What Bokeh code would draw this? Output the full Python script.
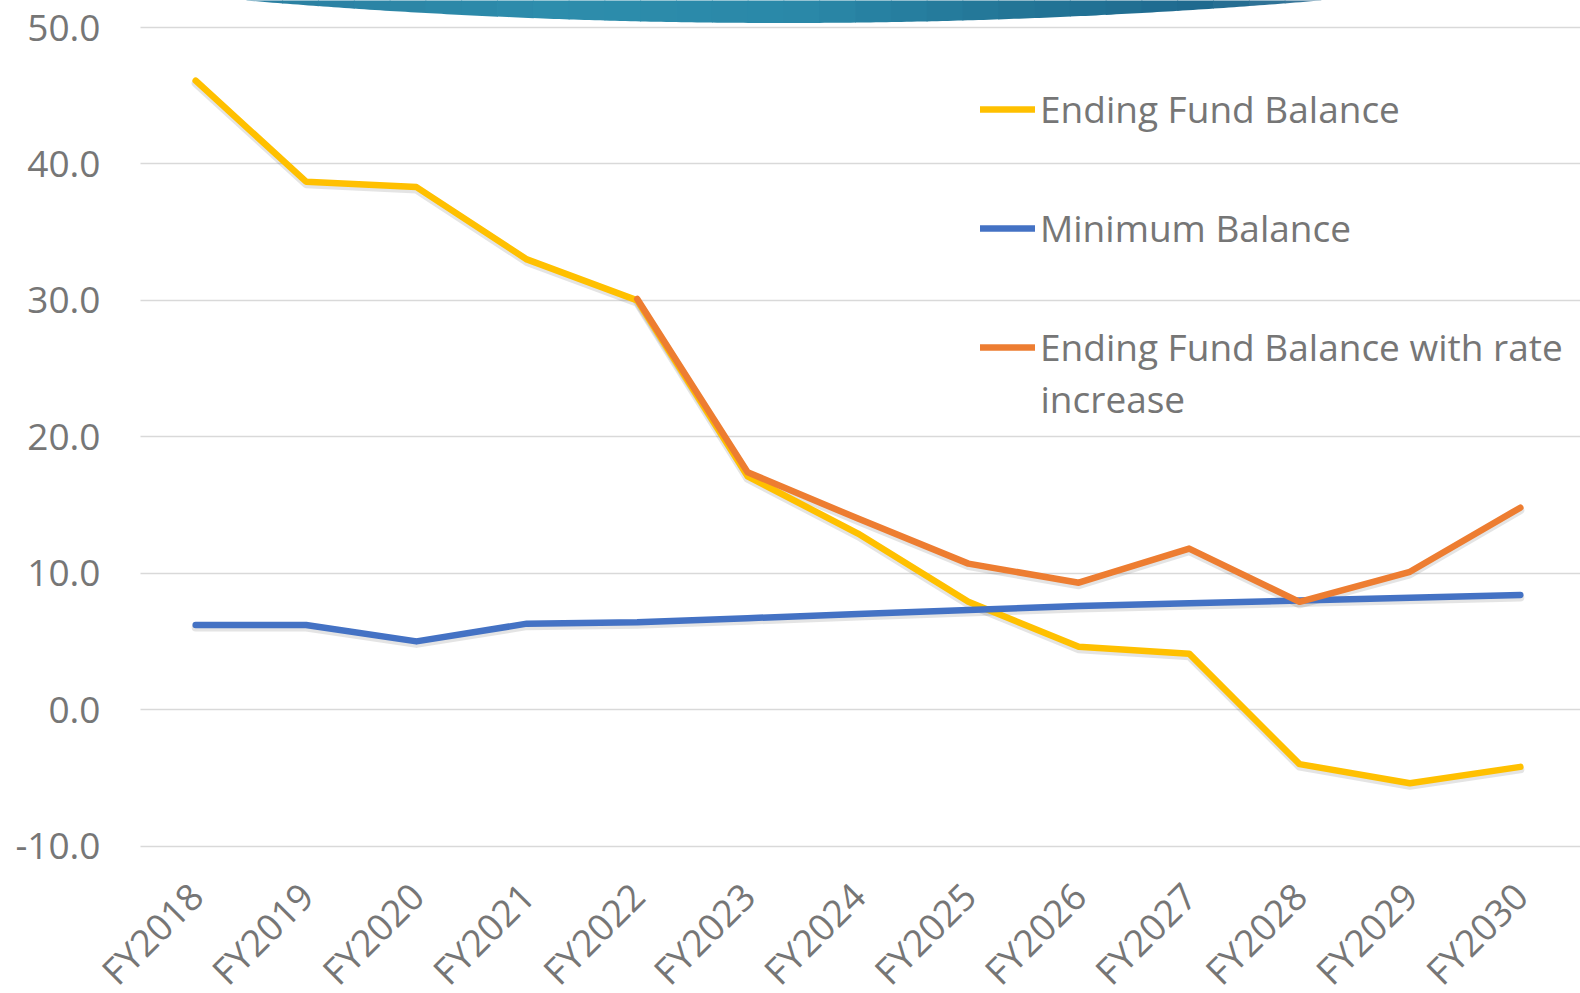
import math
import numpy as np
from bokeh.plotting import figure
from bokeh.models import (Range1d, FixedTicker, NumeralTickFormatter, Legend,
                          LegendItem, Label, PolyAnnotation, BoxAnnotation)
from bokeh.embed import file_html
from bokeh.resources import INLINE

years = ["FY2018", "FY2019", "FY2020", "FY2021", "FY2022", "FY2023", "FY2024",
         "FY2025", "FY2026", "FY2027", "FY2028", "FY2029", "FY2030"]
ending_balance = [46.1, 38.7, 38.3, 33.0, 30.0, 17.1, 12.9, 7.9, 4.6, 4.1, -4.0, -5.4, -4.2]
minimum_balance = [6.2, 6.2, 5.0, 6.3, 6.4, 6.7, 7.0, 7.3, 7.6, 7.8, 8.0, 8.2, 8.4]
ending_rate_increase = [np.nan, np.nan, np.nan, np.nan, 30.1, 17.4, 14.0, 10.7, 9.3, 11.8, 7.9, 10.1, 14.8]
y_ticks = [-10, 0, 10, 20, 30, 40, 50]

x_idx = list(range(len(years)))   # category positions on the x scale

FONT = "Open Sans"
GRAY = "#767676"

W, H = 1580, 993
TOP_PX, BOT_PX = 27.0, 845.5            # pixel rows of the 50 and -10 gridlines
LEFT_PX, RIGHT_PX = 140.0, 1575.0       # pixel columns of the plot area
PPU = (BOT_PX - TOP_PX) / (y_ticks[-1] - y_ticks[0])
Y1 = y_ticks[-1] + TOP_PX / PPU
Y0 = y_ticks[0] - (H - BOT_PX) / PPU
XPU = (RIGHT_PX - LEFT_PX) / len(years)
X0 = -0.5 - LEFT_PX / XPU
X1 = len(years) - 0.5 + (W - RIGHT_PX) / XPU

p = figure(x_range=Range1d(X0, X1), y_range=Range1d(Y0, Y1), width=W, height=H,
           output_backend="svg", toolbar_location=None,
           min_border_left=0, min_border_right=0, min_border_top=0, min_border_bottom=0)
p.outline_line_color = None
p.background_fill_color = "white"

# grid
p.ygrid.ticker = FixedTicker(ticks=y_ticks)
p.ygrid.grid_line_color = "#d9d9d9"
p.ygrid.grid_line_width = 1.3
p.xgrid.grid_line_color = None
try:
    p.ygrid[0].cross_bounds = (-0.5, X1)
except Exception:
    p.add_layout(BoxAnnotation(left=0, right=LEFT_PX, bottom=0, top=H,
                               left_units="screen", right_units="screen",
                               top_units="screen", bottom_units="screen",
                               fill_color="white", fill_alpha=1, line_color=None,
                               level="underlay"))

# decorative header shape (partially visible at top), screen units
cx, half, depth = 783.0, 537.0, 22.5
stops_x = [cx - half, 550, 800, 1000, 1200, cx + half]
stops_rgb = np.array([[42, 126, 160], [45, 141, 172], [42, 136, 168],
                      [35, 118, 151], [31, 106, 143], [60, 120, 155]], dtype=float)
edges = np.linspace(cx - half, cx + half, 31)
for i in range(len(edges) - 1):
    xm = 0.5 * (edges[i] + edges[i + 1])
    rgb = [int(round(np.interp(xm, stops_x, stops_rgb[:, k]))) for k in range(3)]
    col = "#%02x%02x%02x" % tuple(rgb)
    xs_c = np.linspace(edges[i], edges[i + 1] + 0.8, 8)
    ys_c = H - (depth * (1 - ((xs_c - cx) / half) ** 2))
    xs_poly = list(xs_c) + [edges[i + 1] + 0.8, edges[i]]
    ys_poly = list(ys_c) + [H + 20, H + 20]
    p.add_layout(PolyAnnotation(xs=xs_poly, ys=ys_poly, xs_units="screen", ys_units="screen",
                                fill_color=col, fill_alpha=1.0, line_color=None,
                                level="underlay"))

# soft shadows (shifted slightly down)
SH = 2.5 / PPU
p.extra_y_ranges = {"shadow": Range1d(Y0 + SH, Y1 + SH)}
for series in (ending_balance, minimum_balance, ending_rate_increase):
    p.line(x_idx, series, line_color="#404040", line_alpha=0.14, line_width=8,
           line_join="round", line_cap="round", y_range_name="shadow")

r1 = p.line(x_idx, ending_balance, line_color="#FFC000", line_width=6.5,
            line_join="round", line_cap="round")
r2 = p.line(x_idx, minimum_balance, line_color="#4472C4", line_width=6.5,
            line_join="round", line_cap="round")
r3 = p.line(x_idx, ending_rate_increase, line_color="#ED7D31", line_width=6.5,
            line_join="round", line_cap="round")

# axes
p.yaxis.ticker = FixedTicker(ticks=y_ticks)
p.yaxis.formatter = NumeralTickFormatter(format="0.0")
p.xaxis.ticker = FixedTicker(ticks=x_idx)
p.xaxis.major_label_overrides = {i: name for i, name in zip(x_idx, years)}
for ax in (p.xaxis, p.yaxis):
    ax.axis_line_color = None
    ax.major_tick_line_color = None
    ax.minor_tick_line_color = None
    ax.major_label_text_font = FONT
    ax.major_label_text_font_size = "37px"
    ax.major_label_text_color = GRAY
p.yaxis.fixed_location = -0.5
p.yaxis.major_label_standoff = 34
p.xaxis.fixed_location = y_ticks[0]
p.xaxis.major_label_orientation = math.pi / 4
p.xaxis.major_label_standoff = 37

legend = Legend(items=[
    LegendItem(label="Ending Fund Balance", renderers=[r1]),
    LegendItem(label="Minimum Balance", renderers=[r2]),
    LegendItem(label="Ending Fund Balance with rate", renderers=[r3]),
], location=(840 + LEFT_PX, 469 + (H - BOT_PX)), orientation="vertical",
    background_fill_alpha=0, border_line_color=None, padding=0, margin=0,
    spacing=59, label_height=60, glyph_width=55, glyph_height=20, label_standoff=5,
    label_text_font=FONT, label_text_font_size="37px", label_text_color=GRAY)
p.add_layout(legend)

p.add_layout(Label(x=900 + LEFT_PX, y=448 + (H - BOT_PX), x_units="screen", y_units="screen",
                   text="increase", text_baseline="middle", text_align="left", text_font=FONT,
                   text_font_size="37px", text_color=GRAY))

open("out.html", "w").write(file_html(p, INLINE))
